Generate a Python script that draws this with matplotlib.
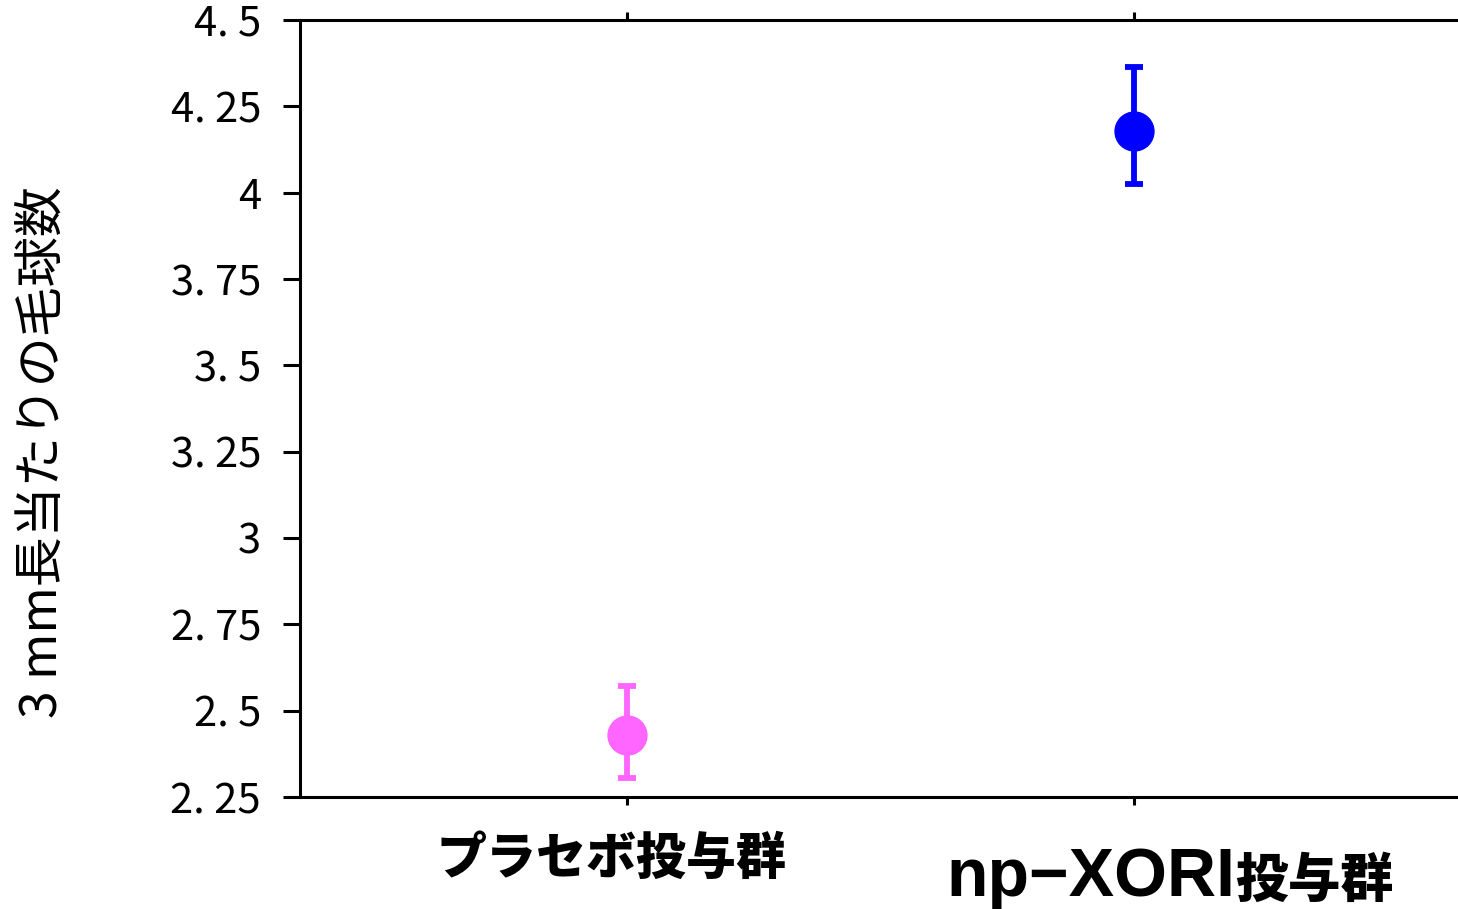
import matplotlib
matplotlib.use("Agg")
import matplotlib.pyplot as plt
import matplotlib.transforms as mtransforms

# ---- data ----
categories = ["プラセボ投与群", "np−XORI投与群"]
label_main = ["プラセボ投与群", "np−XORI"]
label_suffix = ["", "投与群"]
means = [2.43, 4.18]
err_lower = [0.125, 0.155]
err_upper = [0.14, 0.185]
colors = ["#FF66FF", "#0000FF"]
yticks = [2.25, 2.5, 2.75, 3.0, 3.25, 3.5, 3.75, 4.0, 4.25, 4.5]
ytick_labels = ["2. 25", "2. 5", "2. 75", "3", "3. 25", "3. 5", "3. 75", "4", "4. 25", "4. 5"]
ylabel = "3 mm長当たりの毛球数"

plt.rcParams['font.family'] = ['Noto Sans CJK JP', 'DejaVu Sans']

fig = plt.figure(figsize=(14.58, 9.09), dpi=100)
ax = fig.add_axes([300/1458, 1-797/909, 1156/1458, (797-20)/909])

xpos = list(range(len(categories)))
for i in xpos:
    ax.errorbar([i], [means[i]], yerr=[[err_lower[i]], [err_upper[i]]],
                fmt='o', color=colors[i], ecolor=colors[i], markersize=28,
                elinewidth=4.2, capsize=6.5, capthick=4.2, zorder=3, clip_on=False)

ax.set_xlim(-0.644, 1.636)
ax.set_ylim(2.25, 4.5)
ax.set_yticks(yticks)
ax.set_yticklabels(ytick_labels, fontsize=30)
ax.set_xticks(xpos)
ax.set_xticklabels([""] * len(xpos))

for s in ['left', 'top', 'bottom']:
    ax.spines[s].set_linewidth(2.2)
ax.spines['right'].set_visible(False)

ax.tick_params(axis='y', direction='out', length=12, width=2.2, pad=16)
ax.tick_params(axis='x', direction='out', length=6, width=2.2, top=True, bottom=True)

ax.set_ylabel(ylabel, fontsize=36)
ax.yaxis.set_label_coords((43 - 300) / 1156, (797 - 452) / 777)
ax.yaxis.label.set_verticalalignment('center')

trans = mtransforms.blended_transform_factory(ax.transData, ax.transAxes)
# first label
ax.text(xpos[0] - 15/508, -0.08, label_main[0], transform=trans, ha='center', va='center',
        fontsize=36, fontweight='heavy')
# second label (larger latin part + smaller CJK suffix)
split_x = xpos[1] + (1237-1135)/508
ax.text(split_x, -0.104, label_main[1], transform=trans, ha='right', va='center',
        fontsize=49, fontweight='bold', family=['Liberation Sans', 'Noto Sans CJK JP'])
ax.text(split_x, -0.108, label_suffix[1], transform=trans, ha='left', va='center',
        fontsize=38, fontweight='heavy')

fig.savefig("out.png", dpi=100)
